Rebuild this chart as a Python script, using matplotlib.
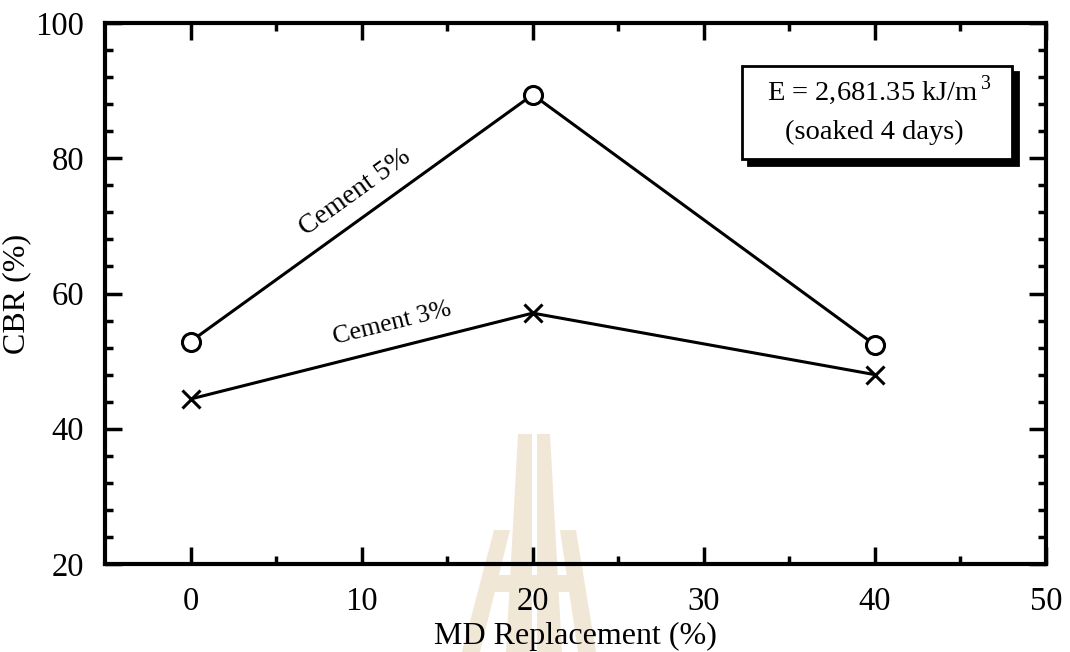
import numpy as np
import matplotlib
matplotlib.use("Agg")
import matplotlib.pyplot as plt
from matplotlib.patches import Rectangle, Polygon

plt.rcParams['font.family'] = ['Liberation Serif', 'DejaVu Serif']
plt.rcParams['mathtext.fontset'] = 'custom'
plt.rcParams['mathtext.rm'] = 'Liberation Serif'

# data
md_replacement = [0, 20, 40]
cbr_cement5 = [52.9, 89.4, 52.4]
cbr_cement3 = [44.4, 57.1, 48.0]

fig = plt.figure(figsize=(10.70, 6.52), dpi=100)
ax = fig.add_axes([105/1070, 1-564/652, (1046-105)/1070, (564-23)/652])

# faint watermark logo behind the plot (figure pixels)
wm = '#f1e7d6'
def px(pts):
    return [(x/1070, 1-y/652) for x, y in pts]
for poly in [
    [(518, 434), (532, 434), (532, 652), (506, 652)],
    [(537, 434), (550, 434), (562, 652), (537, 652)],
    [(494, 530), (510, 530), (480, 652), (462, 652)],
    [(560, 530), (576, 530), (596, 652), (578, 652)],
    [(494, 575), (576, 575), (576, 592), (494, 592)],
]:
    fig.patches.append(Polygon(px(poly), closed=True, transform=fig.transFigure,
                               facecolor=wm, edgecolor='none', zorder=-1))
ax.set_facecolor('none')

ax.plot(md_replacement, cbr_cement5, color='black', lw=2.2, marker='o',
        ms=13, mfc='white', mec='black', mew=2.2)
ax.plot(md_replacement, cbr_cement3, color='black', lw=2.2, marker='x',
        ms=13, mew=2.2)

ax.text(9.6, 75.0, 'Cement 5%', rotation=35.8, rotation_mode='anchor',
        ha='center', va='center', fontsize=20)
ax.text(11.8, 55.6, 'Cement 3%', rotation=14, rotation_mode='anchor',
        ha='center', va='center', fontsize=18.5)

ax.set_xlim(-5, 50)
ax.set_ylim(20, 100)
ax.set_xticks([0, 10, 20, 30, 40, 50])
ax.set_xticks([5, 15, 25, 35, 45], minor=True)
ax.set_yticks([20, 40, 60, 80, 100])
ax.set_yticks(np.arange(20, 101, 4), minor=True)
ax.tick_params(which='both', direction='in', top=True, right=True,
               width=2.5, labelsize=23.5)
ax.tick_params(axis='x', which='both', pad=16)
ax.tick_params(axis='y', which='both', pad=15)
ax.tick_params(which='major', length=12)
ax.tick_params(which='minor', length=6)
for s in ax.spines.values():
    s.set_linewidth(3)

ax.set_xlabel('MD Replacement (%)', fontsize=23, labelpad=4)
ax.set_ylabel('CBR (%)', fontsize=23, labelpad=3)

# shadowed note box
bx, by, bw, bh = 0.677, 0.7486, 0.287, 0.172
ax.add_patch(Rectangle((bx + 0.0064, by - 0.011), bw, bh, transform=ax.transAxes,
                       facecolor='black', edgecolor='black', lw=2, zorder=4))
ax.add_patch(Rectangle((bx, by), bw, bh, transform=ax.transAxes,
                       facecolor='white', edgecolor='black', lw=2, zorder=5))
ax.text(bx + bw*0.51, by + bh*0.74, r'E = 2,681.35 kJ/m$^{\,3}$', transform=ax.transAxes,
        ha='center', va='center', fontsize=20.5, zorder=6)
ax.text(bx + bw*0.49, by + bh*0.29, '(soaked 4 days)', transform=ax.transAxes,
        ha='center', va='center', fontsize=20.5, zorder=6)

fig.savefig('out.png', dpi=100)
